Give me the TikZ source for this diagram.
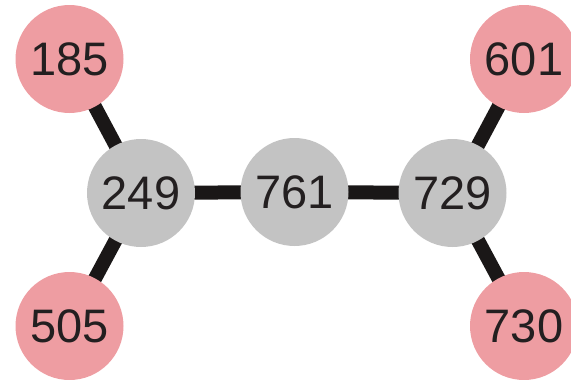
\documentclass[tikz,border=0pt]{standalone}
\usepackage{fontspec}
\setmainfont{Liberation Sans}
\usetikzlibrary{backgrounds}
\definecolor{pinkn}{HTML}{EE9DA2}
\definecolor{grayn}{HTML}{C3C3C3}
\definecolor{edgec}{HTML}{1A1717}
\definecolor{textc}{HTML}{231F20}
\begin{document}
\begin{tikzpicture}[x=1pt,y=-1pt,
  vert/.style={circle,minimum size=108pt,inner sep=0pt,font=\fontsize{47}{47}\selectfont,text=textc},
  leaf/.style={vert,fill=pinkn},
  hub/.style={vert,fill=grayn},
  link/.style={line width=14pt,draw=edgec}]
\useasboundingbox (0,0) rectangle (571,380);
\node[leaf] (n185) at (69.5,59) {185};
\node[hub]  (n249) at (141,193) {249};
\node[hub]  (n761) at (294.5,192) {761};
\node[hub]  (n729) at (452.5,193) {729};
\node[leaf] (n601) at (524,59) {601};
\node[leaf] (n505) at (69.5,326) {505};
\node[leaf] (n730) at (524,326) {730};
\begin{scope}[on background layer]
\draw[link] (n185.center) -- (n249.center);
\draw[link] (n505.center) -- (n249.center);
\draw[link] (n249.center) -- (n761.center);
\draw[link] (n761.center) -- (n729.center);
\draw[link] (n729.center) -- (n601.center);
\draw[link] (n729.center) -- (n730.center);
\end{scope}
\end{tikzpicture}
\end{document}
